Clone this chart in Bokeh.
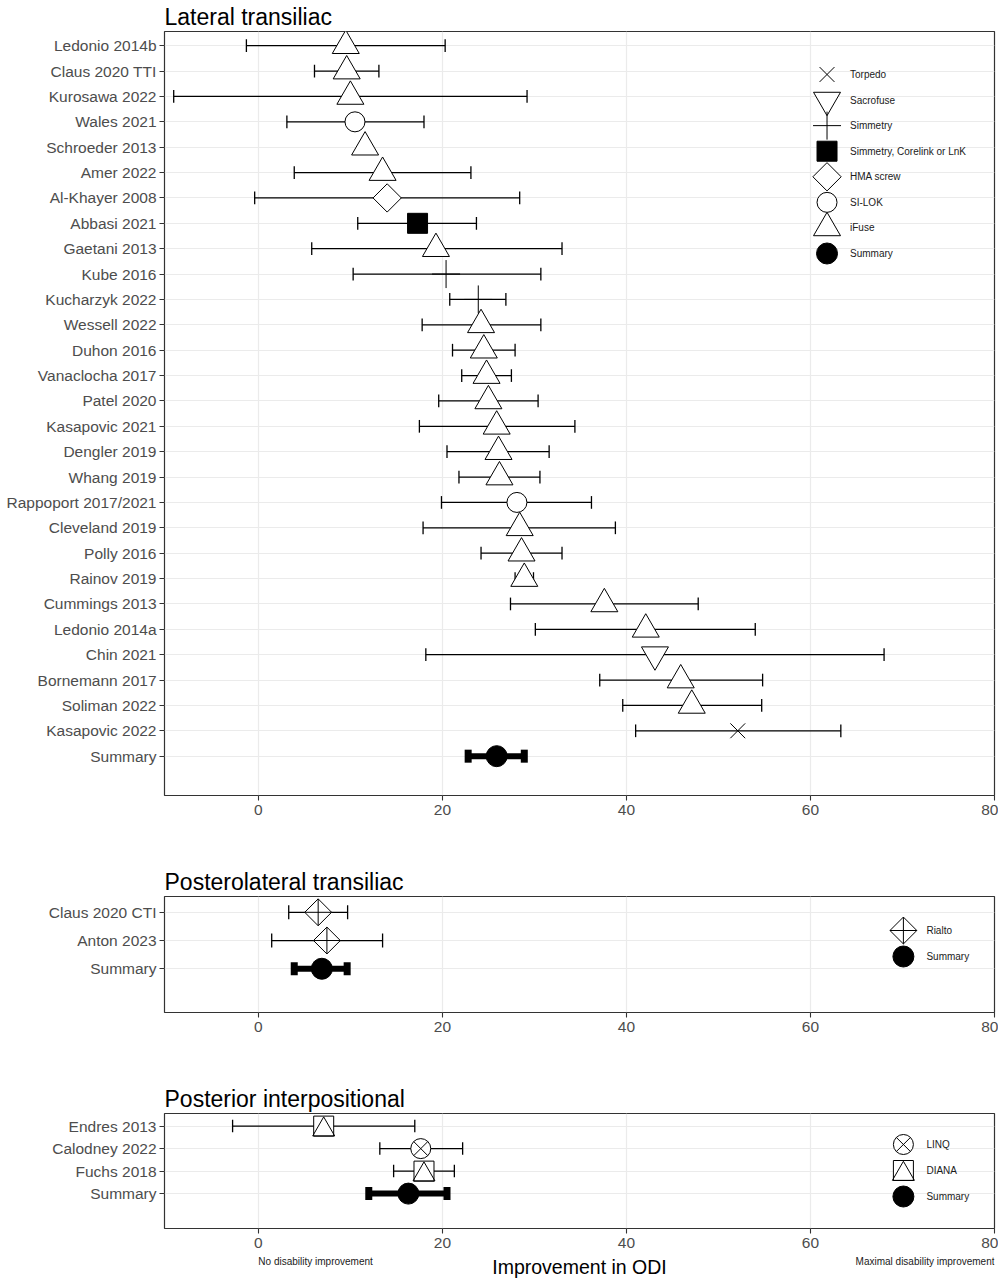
import math
from bokeh.plotting import figure
from bokeh.models import Range1d, FixedTicker, Whisker, TeeHead, ColumnDataSource
from bokeh.layouts import column
from bokeh.transform import dodge
from bokeh.core.properties import value
from bokeh.embed import file_html
from bokeh.resources import INLINE

nan = float("nan")

# ---------------- data ----------------
lat_studies = ["Ledonio 2014b", "Claus 2020 TTI", "Kurosawa 2022", "Wales 2021", "Schroeder 2013",
               "Amer 2022", "Al-Khayer 2008", "Abbasi 2021", "Gaetani 2013", "Kube 2016",
               "Kucharzyk 2022", "Wessell 2022", "Duhon 2016", "Vanaclocha 2017", "Patel 2020",
               "Kasapovic 2021", "Dengler 2019", "Whang 2019", "Rappoport 2017/2021", "Cleveland 2019",
               "Polly 2016", "Rainov 2019", "Cummings 2013", "Ledonio 2014a", "Chin 2021",
               "Bornemann 2017", "Soliman 2022", "Kasapovic 2022"]
lat_est = [9.5, 9.6, 10.0, 10.5, 11.6, 13.5, 14.0, 17.3, 19.3, 20.4,
           23.9, 24.2, 24.5, 24.8, 25.0, 25.9, 26.1, 26.2, 28.1, 28.4,
           28.6, 28.9, 37.6, 42.1, 43.1, 45.9, 47.1, 52.1]
lat_lo = [-1.3, 6.1, -9.2, 3.1, nan, 3.9, -0.4, 10.8, 5.8, 10.3,
          20.8, 17.8, 21.1, 22.1, 19.6, 17.5, 20.5, 21.8, 19.9, 17.9,
          24.2, 27.9, 27.4, 30.1, 18.2, 37.1, 39.6, 41.0]
lat_hi = [20.3, 13.1, 29.2, 18.0, nan, 23.1, 28.4, 23.7, 33.0, 30.7,
          26.9, 30.7, 27.9, 27.5, 30.4, 34.4, 31.6, 30.6, 36.2, 38.8,
          33.0, 29.9, 47.8, 54.0, 68.0, 54.8, 54.7, 63.3]
lat_device = ["iFuse", "iFuse", "iFuse", "SI-LOK", "iFuse",
              "iFuse", "HMA screw", "Simmetry, Corelink or LnK", "iFuse", "Simmetry",
              "Simmetry", "iFuse", "iFuse", "iFuse", "iFuse",
              "iFuse", "iFuse", "iFuse", "SI-LOK", "iFuse",
              "iFuse", "iFuse", "iFuse", "iFuse", "Sacrofuse",
              "iFuse", "iFuse", "Torpedo"]
lat_summary = [25.9, 22.8, 28.9]  # estimate, lower, upper
lat_legend = ["Torpedo", "Sacrofuse", "Simmetry", "Simmetry, Corelink or LnK",
              "HMA screw", "SI-LOK", "iFuse", "Summary"]

pl_studies = ["Claus 2020 CTI", "Anton 2023"]
pl_est = [6.5, 7.45]
pl_lo = [3.3, 1.45]
pl_hi = [9.7, 13.5]
pl_device = ["Rialto", "Rialto"]
pl_summary = [6.9, 3.9, 9.65]
pl_legend = ["Rialto", "Summary"]

pi_studies = ["Endres 2013", "Calodney 2022", "Fuchs 2018"]
pi_est = [7.1, 17.65, 18.0]
pi_lo = [-2.8, 13.2, 14.7]
pi_hi = [17.0, 22.2, 21.3]
pi_device = ["DIANA", "LINQ", "DIANA"]
pi_summary = [16.3, 12.0, 20.5]
pi_legend = ["LINQ", "DIANA", "Summary"]

x_ticks = [0, 20, 40, 60, 80]
x_title = "Improvement in ODI"
x_end_labels = ["No disability improvement", "Maximal disability improvement"]

# ---------------- styles ----------------
FONT = "Liberation Sans"
GRAY_TXT = "#4D4D4D"
GRID = "#EBEBEB"
BORDER = "#333333"
X_START, X_END = -10.2, 80
FRAME_W = 830
BORDER_L, BORDER_R = 164, 4

STYLE = {
    "Torpedo": [dict(marker="x", size=21, fill_color=None)],
    "Sacrofuse": [dict(marker="inverted_triangle", size=27, fill_color="white")],
    "Simmetry": [dict(marker="cross", size=28, fill_color=None)],
    "Simmetry, Corelink or LnK": [dict(marker="square", size=20, fill_color="black")],
    "HMA screw": [dict(marker="square", size=20, angle=math.pi / 4, fill_color="white")],
    "SI-LOK": [dict(marker="circle", size=20, fill_color="white")],
    "iFuse": [dict(marker="triangle", size=27, fill_color="white")],
    "Summary": [dict(marker="circle", size=21, fill_color="black")],
    "Rialto": [dict(marker="square_x", size=19, angle=math.pi / 4, fill_color="white")],
    "LINQ": [dict(marker="circle_x", size=20, fill_color="white")],
    "DIANA": [dict(marker="square", size=20, fill_color="white"),
              dict(marker="triangle", size=22, fill_color=None, dy_px=3.5)],
}


def draw_marker(p, xs, ys, device, px_per_row):
    for st in STYLE[device]:
        st = dict(st)
        dy_px = st.pop("dy_px", 0)
        src = ColumnDataSource(dict(x=list(xs), y=list(ys)))
        ykey = dodge("y", -dy_px / px_per_row) if dy_px else "y"
        p.scatter(x="x", y=ykey, source=src, line_color="black", line_width=1.0, **st)


def make_panel(title, studies, est, lo, hi, device, summary, legend_names,
               frame_h, border_top, border_bottom, tee, leg_x, lab_x,
               leg_off_px, leg_step_px):
    n = len(studies) + 1
    y_start, y_end = -0.55, n + 0.56
    px_per_row = frame_h / (y_end - y_start)
    ys = [n - i for i in range(len(studies))]
    p = figure(frame_width=FRAME_W, frame_height=frame_h,
               x_range=Range1d(X_START, X_END), y_range=Range1d(y_start, y_end),
               output_backend="svg", toolbar_location=None,
               min_border_left=BORDER_L, min_border_right=BORDER_R,
               min_border_top=border_top, min_border_bottom=border_bottom,
               background_fill_color="white", border_fill_color="white")
    p.outline_line_color = BORDER
    p.outline_line_width = 1.2
    # title
    p.title.text = title
    p.title.text_font = FONT
    p.title.text_font_size = "23px"
    p.title.text_font_style = "normal"
    p.title.text_color = "black"
    p.title.align = "left"
    p.title.offset = 0
    p.title.standoff = 3
    # axes
    p.xaxis.ticker = FixedTicker(ticks=x_ticks)
    p.xgrid.ticker = FixedTicker(ticks=x_ticks)
    row_ticks = ys + [1]
    labels = {y: s for y, s in zip(ys, studies)}
    labels[1] = "Summary"
    p.yaxis.ticker = FixedTicker(ticks=row_ticks)
    p.ygrid.ticker = FixedTicker(ticks=row_ticks)
    p.yaxis.major_label_overrides = labels
    for ax in (p.xaxis[0], p.yaxis[0]):
        ax.axis_line_color = None
        ax.major_tick_line_color = BORDER
        ax.major_tick_line_width = 1.1
        ax.major_tick_out = 5
        ax.major_tick_in = 0
        ax.minor_tick_out = 0
        ax.minor_tick_in = 0
        ax.major_label_text_font = FONT
        ax.major_label_text_font_size = "15.5px"
        ax.major_label_text_color = GRAY_TXT
    p.yaxis.major_label_standoff = 3
    p.xaxis.major_label_standoff = 4
    for g in (p.xgrid[0], p.ygrid[0]):
        g.grid_line_color = GRID
        g.grid_line_width = 1.2
        g.minor_grid_line_color = None

    # error bars
    keep = [i for i in range(len(studies)) if not (math.isnan(lo[i]) or math.isnan(hi[i]))]
    wsrc = ColumnDataSource(dict(base=[ys[i] for i in keep], lower=[lo[i] for i in keep],
                                 upper=[hi[i] for i in keep]))
    p.add_layout(Whisker(source=wsrc, base="base", lower="lower", upper="upper", dimension="width",
                         line_color="black", line_width=1.3, level="underlay",
                         lower_head=TeeHead(size=tee, line_color="black", line_width=1.3),
                         upper_head=TeeHead(size=tee, line_color="black", line_width=1.3)))
    ssrc = ColumnDataSource(dict(base=[1], lower=[summary[1]], upper=[summary[2]]))
    p.add_layout(Whisker(source=ssrc, base="base", lower="lower", upper="upper", dimension="width",
                         line_color="black", line_width=6, level="underlay",
                         lower_head=TeeHead(size=13, line_color="black", line_width=7),
                         upper_head=TeeHead(size=13, line_color="black", line_width=7)))
    # points
    for dev in dict.fromkeys(device):
        xs = [est[i] for i in range(len(studies)) if device[i] == dev]
        yy = [ys[i] for i in range(len(studies)) if device[i] == dev]
        draw_marker(p, xs, yy, dev, px_per_row)
    draw_marker(p, [summary[0]], [1], "Summary", px_per_row)

    # legend (drawn manually to keep ggplot-like key sizes)
    leg_y = [y_end - (leg_off_px + k * leg_step_px) / px_per_row for k in range(len(legend_names))]
    for name, yl in zip(legend_names, leg_y):
        draw_marker(p, [leg_x], [yl], name, px_per_row)
    p.text(x=[lab_x] * len(legend_names), y=leg_y, text=legend_names,
           text_font=value(FONT), text_font_size="10px", text_baseline="middle",
           text_align="left", text_color="#1A1A1A")
    return p


p1 = make_panel("Lateral transiliac", lat_studies, lat_est, lat_lo, lat_hi, lat_device, lat_summary,
                lat_legend, frame_h=764, border_top=25, border_bottom=49, tee=12.7,
                leg_x=61.8, lab_x=64.3, leg_off_px=43, leg_step_px=25.57)
p2 = make_panel("Posterolateral transiliac", pl_studies, pl_est, pl_lo, pl_hi, pl_device, pl_summary,
                pl_legend, frame_h=116, border_top=52, border_bottom=47, tee=14,
                leg_x=70.1, lab_x=72.6, leg_off_px=34, leg_step_px=26)
p3 = make_panel("Posterior interpositional", pi_studies, pi_est, pi_lo, pi_hi, pi_device, pi_summary,
                pi_legend, frame_h=115, border_top=54, border_bottom=27, tee=12.5,
                leg_x=70.1, lab_x=72.6, leg_off_px=31, leg_step_px=26)

# footer strip holding the x-axis title and the end annotations, sharing the x scale
foot = figure(frame_width=FRAME_W, frame_height=23,
              x_range=p3.x_range, y_range=Range1d(0, 1),
              output_backend="svg", toolbar_location=None,
              x_axis_type=None, y_axis_type=None,
              min_border_left=BORDER_L, min_border_right=BORDER_R,
              min_border_top=0, min_border_bottom=0,
              background_fill_color="white", border_fill_color="white")
foot.outline_line_color = None
foot.grid.visible = False
foot.text(x=[X_START + (X_END - X_START) / 2], y=[0.52], text=[x_title],
          text_font=value(FONT), text_font_size="19.5px", text_align="center",
          text_baseline="middle", text_color="black")
foot.text(x=[x_ticks[0], x_ticks[-1]], y=[0.74, 0.74], text=x_end_labels,
          text_font=value(FONT), text_font_size="10px", text_align=["left", "right"],
          text_baseline="middle", text_color="#1A1A1A")

layout = column(p1, p2, p3, foot, spacing=0)
open("out.html", "w").write(file_html(layout, INLINE))
